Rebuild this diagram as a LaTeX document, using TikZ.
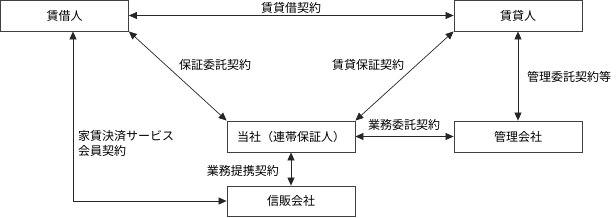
\documentclass[tikz,border=0pt]{standalone}
\usepackage{fontspec}
\setmainfont{Noto Sans CJK JP}
\usetikzlibrary{arrows.meta}

\begin{document}
\begin{tikzpicture}[x=1pt,y=-1pt,
  font=\fontsize{12}{15}\selectfont,
  box/.style={draw=black!75,line width=0.8pt,minimum width=128pt,minimum height=31pt,inner sep=0pt},
  link/.style={{Triangle[length=8pt,width=7pt]}-{Triangle[length=8pt,width=7pt]},line width=0.7pt,draw=black!85},
  lbl/.style={inner sep=0pt}]
\useasboundingbox (0,0) rectangle (616,217);
% parties
\node[box] (shakunin) at (64.5,15.5) {賃借人};
\node[box] (chintainin) at (518,15.5) {賃貸人};
\node[box] (tousha) at (291,136.5) {当社（連帯保証人）};
\node[box] (kanri) at (518,136.5) {管理会社};
\node[box,minimum height=30pt] (shinpan) at (291,201) {信販会社};
% contracts
\draw[link] (shakunin.east) -- (chintainin.west);
\draw[link] (shakunin.south east) -- (tousha.north west);
\draw[link] (tousha.north east) -- (chintainin.south west);
\draw[link] (chintainin.south) -- (kanri.north);
\draw[link] (tousha.east) -- (kanri.west);
\draw[link] (tousha.south) -- (shinpan.north);
\draw[link] ([xshift=8.5pt]shakunin.south) |- (shinpan.west);
% labels
\node[lbl] (l1) at (291,8) {賃貸借契約};
\node[lbl] (l2) at (215,65) {保証委託契約};
\node[lbl] (l3) at (368,65) {賃貸保証契約};
\node[lbl,anchor=west] (l4) at (527,77) {管理委託契約等};
\node[lbl] (l5) at (404,125) {業務委託契約};
\node[lbl,anchor=east] (l6) at (279,171) {業務提携契約};
\node[lbl,anchor=west,align=left] (l7) at (78,143.5) {家賃決済サービス\\会員契約};
\end{tikzpicture}
\end{document}
